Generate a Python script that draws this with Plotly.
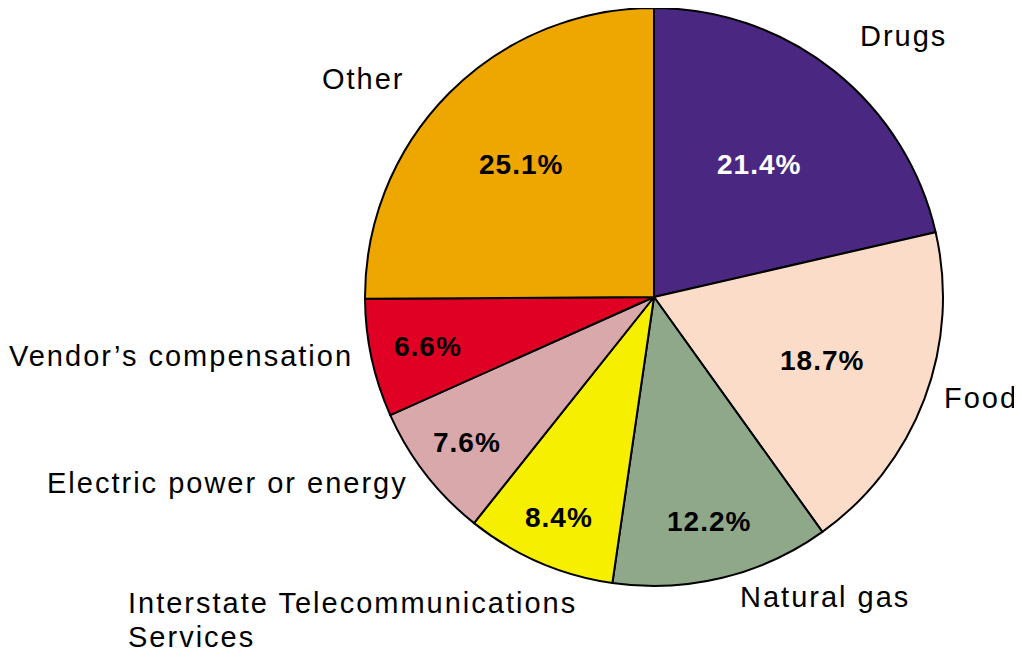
import math
import plotly.graph_objects as go

# ---- data ----
categories = ["Drugs", "Food", "Natural gas", "Interstate Telecommunications Services",
              "Electric power or energy", "Vendor’s compensation", "Other"]
values = [21.4, 18.7, 12.2, 8.4, 7.6, 6.6, 25.1]
outside_labels = [["Drugs"], ["Food"], ["Natural gas"],
                  ["Interstate Telecommunications", "Services"],
                  ["Electric power or energy"], ["Vendor’s compensation"], ["Other"]]

# ---- style ----
colors = ["#4A2882", "#FBDCC8", "#8FA88A", "#F7EF00", "#D9A8AB", "#E00024", "#EEA600"]
pct_font_colors = ["white", "black", "black", "black", "black", "black", "black"]
pct_radius = [0.585, 0.62, 0.80, 0.83, 0.82, 0.80, 0.65]
# outside label placement: (dx, dy) pixel offset from pie centre of first line, xanchor
label_place = [(249, -261, "center"), (327, 101, "center"), (171, 300, "center"),
               (-528, 306, "left"), (-244, 186, "right"), (-299, 59, "right"),
               (-291, -218, "center")]
LINE_GAP = 34

PAGE_MARGIN = 8  # browser body margin
W, H = 1022 - PAGE_MARGIN, 657 - PAGE_MARGIN
CX, CY, R = 654 - PAGE_MARGIN, 297 - PAGE_MARGIN, 289
FONT = "Liberation Sans, Arial, sans-serif"

fig = go.Figure(go.Pie(
    labels=categories, values=values, sort=False, direction="clockwise",
    rotation=0, textinfo="none", hoverinfo="label+percent",
    marker=dict(colors=colors, line=dict(color="black", width=2)),
    domain=dict(x=[(CX - R) / W, (CX + R) / W], y=[1 - (CY + R) / H, 1 - (CY - R) / H]),
    showlegend=False,
))

total = sum(values)
annotations = []
cum = 0.0
for i, v in enumerate(values):
    mid = (cum + v / 2) / total * 2 * math.pi
    cum += v
    px = CX + pct_radius[i] * R * math.sin(mid)
    py = CY - pct_radius[i] * R * math.cos(mid)
    annotations.append(dict(
        x=px / W, y=1 - py / H, xref="paper", yref="paper", showarrow=False,
        text=f'<span style="letter-spacing:1px"><b>{v:.1f}%</b></span>',
        xanchor="center", yanchor="middle",
        font=dict(family=FONT, size=28, color=pct_font_colors[i])))
    dx, dy, anc = label_place[i]
    for j, line in enumerate(outside_labels[i]):
        annotations.append(dict(
            x=(CX + dx) / W, y=1 - (CY + dy + j * LINE_GAP) / H, xref="paper", yref="paper",
            showarrow=False, text=f'<span style="letter-spacing:2px">{line}</span>',
            xanchor=anc, yanchor="middle",
            font=dict(family=FONT, size=29, color="black")))

fig.update_layout(
    width=W, height=H, margin=dict(l=0, r=0, t=0, b=0),
    paper_bgcolor="white", plot_bgcolor="white",
    annotations=annotations,
)
fig.write_html("out.html")
